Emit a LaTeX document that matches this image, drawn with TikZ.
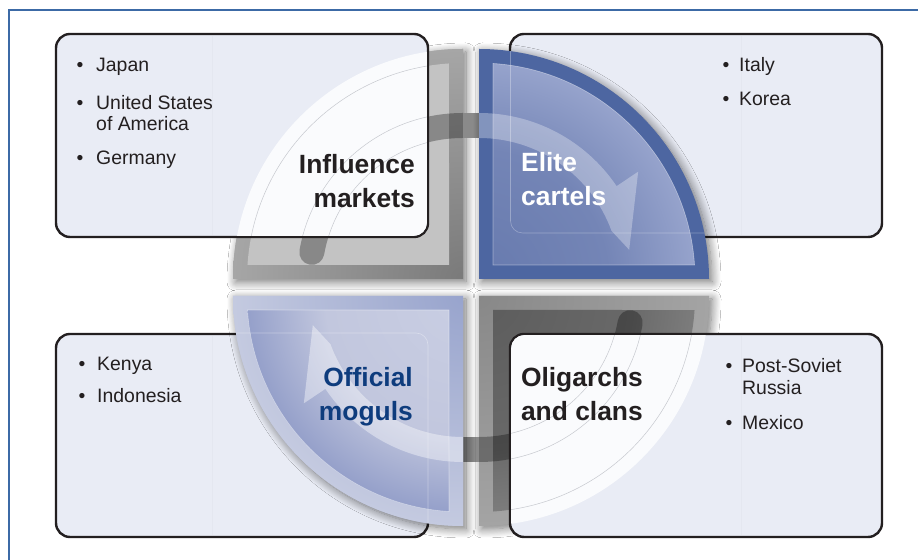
\documentclass[tikz,border=0pt]{standalone}
\usepackage{fontspec}
\setmainfont{Liberation Sans}
\usetikzlibrary{shadows.blur}
\definecolor{framec}{HTML}{3C6AA6}
\definecolor{boxfill}{HTML}{E9ECF5}
\definecolor{boxline}{HTML}{231F20}
\definecolor{boxseam}{HTML}{E4E7F0}
\definecolor{hilite}{HTML}{FAFBFD}
\definecolor{thinl}{HTML}{C6C8CE}
\definecolor{txt}{HTML}{231F20}
\definecolor{mogul}{HTML}{0E3C7D}
\definecolor{tlo1}{HTML}{7A7A7A}
\definecolor{tlo2}{HTML}{A6A6A6}
\definecolor{tlin}{HTML}{C3C3C3}
\definecolor{bro1}{HTML}{888888}
\definecolor{bro2}{HTML}{A4A4A4}
\definecolor{bri1}{HTML}{5C5C5C}
\definecolor{bri2}{HTML}{686868}
\definecolor{bri3}{HTML}{7C7C7C}
\definecolor{tro}{HTML}{4D66A1}
\definecolor{tri1}{HTML}{677AAE}
\definecolor{tri2}{HTML}{7485B6}
\definecolor{tri3}{HTML}{96A3CC}
\definecolor{blo1}{HTML}{98A4CD}
\definecolor{blo2}{HTML}{C4CAE0}
\definecolor{bli1}{HTML}{C9CEE3}
\definecolor{bli2}{HTML}{C2C7DE}
\definecolor{bli3}{HTML}{95A0CA}
\definecolor{gapband}{HTML}{8A8A8A}
\pgfdeclareradialshading{tlout}{\pgfpoint{0bp}{0bp}}{color(0bp)=(tlo1); color(25bp)=(tlo2); color(50bp)=(tlo2)}
\pgfdeclareradialshading{brout}{\pgfpoint{0bp}{0bp}}{color(0bp)=(bro1); color(25bp)=(bro2); color(50bp)=(bro2)}
\pgfdeclareradialshading{brin}{\pgfpoint{0bp}{0bp}}{color(0bp)=(bri1); color(16bp)=(bri2); color(23.5bp)=(bri3); color(50bp)=(bri3)}
\pgfdeclareradialshading{trin}{\pgfpoint{0bp}{0bp}}{color(0bp)=(tri1); color(14bp)=(tri2); color(23.5bp)=(tri3); color(50bp)=(tri3)}
\pgfdeclareradialshading{blout}{\pgfpoint{0bp}{0bp}}{color(0bp)=(blo1); color(25bp)=(blo2); color(50bp)=(blo2)}
\pgfdeclareradialshading{blin}{\pgfpoint{0bp}{0bp}}{color(0bp)=(bli1); color(15bp)=(bli2); color(23.5bp)=(bli3); color(50bp)=(bli3)}
\tikzset{
  qshadow/.style={blur shadow={shadow xshift=3bp, shadow yshift=-3bp, shadow blur radius=9bp, shadow opacity=55, shadow blur steps=12}},
  textbox/.style={draw=boxline, line width=2.4bp, fill=boxfill, rounded corners=14bp, minimum width=372bp, minimum height=203bp, inner sep=0pt},
  thinline/.style={draw=thinl, line width=.5bp},
  glint/.style={draw=white, draw opacity=.4, line width=.6bp},
  item/.style={anchor=base west, inner sep=0pt, text=txt, font=\fontsize{19.5}{22}\selectfont},
  bul/.style={anchor=base, inner sep=0pt, text=txt, font=\fontsize{19.5}{22}\selectfont},
  lab/.style={inner sep=0pt, font=\fontsize{26.5}{32}\selectfont\bfseries},
  seam/.style={draw=boxseam, line width=.5bp}
}
\begin{document}
\begin{tikzpicture}[x=1bp,y=1bp]
\useasboundingbox (0,0) rectangle (918,560);
\fill[white] (0,0) rectangle (918,560);
\draw[framec, line width=1.6bp] (9,0) -- (9,550) -- (918,550);

% ---------- TL quadrant (Influence markets)
\begin{scope}[shift={(463,281)}]
  \path[qshadow, fill=tlo2] (0,0) -- (90:230) arc[start angle=90,end angle=180,radius=230] -- cycle;
  \begin{scope}
    \clip (0,0) -- (90:230) arc[start angle=90,end angle=180,radius=230] -- cycle;
    \shade[shading=tlout] (0,0) circle[radius=230];
  \end{scope}
  \fill[tlin] (-14,14) -- (176.28:216) arc[start angle=176.28,end angle=93.72,radius=216] -- cycle;
  \fill[black, fill opacity=.3] (90:141) arc[start angle=90,end angle=170,radius=141] arc[start angle=350,end angle=170,radius=12.5] arc[start angle=170,end angle=90,radius=166] -- cycle;
  \fill[gapband] (0,141) rectangle (16,166);
\end{scope}

% ---------- BR quadrant (Oligarchs and clans)
\begin{scope}[shift={(479,264)}]
  \path[qshadow, fill=bro2] (0,0) -- (270:230) arc[start angle=270,end angle=360,radius=230] -- cycle;
  \begin{scope}
    \clip (0,0) -- (270:230) arc[start angle=270,end angle=360,radius=230] -- cycle;
    \shade[shading=brout] (0,0) circle[radius=230];
  \end{scope}
  \begin{scope}
    \clip (14,-14) -- (273.72:216) arc[start angle=273.72,end angle=356.28,radius=216] -- cycle;
    \shade[shading=brin] (0,0) circle[radius=230];
  \end{scope}
  \fill[black, fill opacity=.3] (270:141) arc[start angle=270,end angle=350,radius=141] arc[start angle=170,end angle=-10,radius=12.5] arc[start angle=350,end angle=270,radius=166] -- cycle;
  \fill[gapband] (-16,-141) rectangle (0,-166);
\end{scope}

% ---------- TL box with highlight over the quadrant
\node[textbox] (tlbox) at (242,424.5) {};
\begin{scope}
  \clip[rounded corners=12.8bp] (57.2,324.2) rectangle (426.8,524.8);
  \begin{scope}[shift={(463,281)}]
    \fill[hilite] (0,0) -- (90:230) arc[start angle=90,end angle=180,radius=230] -- cycle;
    \path[thinline] (-14,14) -- (176.28:216) arc[start angle=176.28,end angle=93.72,radius=216] -- cycle;
    \path[thinline] (90:141) arc[start angle=90,end angle=170,radius=141] arc[start angle=350,end angle=170,radius=12.5] arc[start angle=170,end angle=90,radius=166] -- cycle;
  \end{scope}
\end{scope}
\path[seam] (212,325) -- (212,524);

% ---------- BR box with highlight over the quadrant
\node[textbox] (brbox) at (696,124.5) {};
\begin{scope}
  \clip[rounded corners=12.8bp] (511.2,24.2) rectangle (880.8,224.8);
  \begin{scope}[shift={(479,264)}]
    \fill[hilite] (0,0) -- (270:230) arc[start angle=270,end angle=360,radius=230] -- cycle;
    \path[thinline] (14,-14) -- (273.72:216) arc[start angle=273.72,end angle=356.28,radius=216] -- cycle;
    \path[thinline] (270:141) arc[start angle=270,end angle=350,radius=141] arc[start angle=170,end angle=-10,radius=12.5] arc[start angle=350,end angle=270,radius=166] -- cycle;
  \end{scope}
\end{scope}
\path[seam] (741,25) -- (741,224);

% ---------- TR and BL boxes (under their quadrants)
\node[textbox] (trbox) at (696,424.5) {};
\path[seam] (741,325) -- (741,524);
\node[textbox] (blbox) at (242,124.5) {};
\path[seam] (212,25) -- (212,224);

% ---------- TR quadrant (Elite cartels)
\begin{scope}[shift={(479,281)}]
  \path[qshadow, fill=tro] (0,0) -- (0:230) arc[start angle=0,end angle=90,radius=230] -- cycle;
  \begin{scope}
    \clip (14,14) -- (3.72:216) arc[start angle=3.72,end angle=86.28,radius=216] -- cycle;
    \shade[shading=trin] (0,0) circle[radius=230];
  \end{scope}
  \path[glint] (14,14) -- (3.72:216) arc[start angle=3.72,end angle=86.28,radius=216] -- cycle;
  \fill[white, fill opacity=.3] (90:166) arc[start angle=90,end angle=34,radius=166] -- (34:192) -- (11:153) -- (20:141) arc[start angle=20,end angle=90,radius=141] -- cycle;
  \begin{scope}
    \clip (0,0) -- (0:230) arc[start angle=0,end angle=90,radius=230] -- cycle;
    \draw[white, draw opacity=.3, line width=.6bp, rounded corners=12bp] (31.5,46) rectangle (402,246);
  \end{scope}
\end{scope}

% ---------- BL quadrant (Official moguls)
\begin{scope}[shift={(463,264)}]
  \path[qshadow, fill=blo2] (0,0) -- (180:230) arc[start angle=180,end angle=270,radius=230] -- cycle;
  \begin{scope}
    \clip (0,0) -- (180:230) arc[start angle=180,end angle=270,radius=230] -- cycle;
    \shade[shading=blout] (0,0) circle[radius=230];
  \end{scope}
  \begin{scope}
    \clip (-14,-14) -- (183.72:216) arc[start angle=183.72,end angle=266.28,radius=216] -- cycle;
    \shade[shading=blin] (0,0) circle[radius=230];
  \end{scope}
  \path[glint] (-14,-14) -- (183.72:216) arc[start angle=183.72,end angle=266.28,radius=216] -- cycle;
  \fill[white, fill opacity=.4] (270:166) arc[start angle=270,end angle=214,radius=166] -- (214:192) -- (191:153) -- (200:141) arc[start angle=200,end angle=270,radius=141] -- cycle;
  \begin{scope}
    \clip (0,0) -- (180:230) arc[start angle=180,end angle=270,radius=230] -- cycle;
    \draw[white, draw opacity=.35, line width=.6bp, rounded corners=12bp] (-410,-244) rectangle (-35,-37);
  \end{scope}
\end{scope}

% ---------- texts
\node[bul] (tlb1) at (80,488) {\textbullet};
\node[item] (tlt1) at (96,488) {Japan};
\node[bul] (tlb2) at (80,450) {\textbullet};
\node[item] (tlt2) at (96,450) {United States};
\node[item] (tlt3) at (96,429) {of America};
\node[bul] (tlb3) at (80,395) {\textbullet};
\node[item] (tlt4) at (96,395) {Germany};

\node[bul] (trb1) at (726,488) {\textbullet};
\node[item] (trt1) at (739,488) {Italy};
\node[bul] (trb2) at (726,454) {\textbullet};
\node[item] (trt2) at (739,454) {Korea};

\node[bul] (blb1) at (82,189) {\textbullet};
\node[item] (blt1) at (97,189) {Kenya};
\node[bul] (blb2) at (82,157) {\textbullet};
\node[item] (blt2) at (97,157) {Indonesia};

\node[bul] (brb1) at (729,187) {\textbullet};
\node[item] (brt1) at (742,187) {Post-Soviet};
\node[item] (brt2) at (742,165) {Russia};
\node[bul] (brb2) at (729,130) {\textbullet};
\node[item] (brt3) at (742,130) {Mexico};

\node[lab, anchor=base east, text=txt] (inf1) at (415,386) {Influence};
\node[lab, anchor=base east, text=txt] (inf2) at (415,352) {markets};
\node[lab, anchor=base west, text=white] (eli1) at (521,388) {Elite};
\node[lab, anchor=base west, text=white] (eli2) at (521,354) {cartels};
\node[lab, anchor=base east, text=mogul] (off1) at (413,173) {Official};
\node[lab, anchor=base east, text=mogul] (off2) at (413,139) {moguls};
\node[lab, anchor=base east, text=txt] (oli1) at (643,173) {Oligarchs};
\node[lab, anchor=base east, text=txt] (oli2) at (643,139) {and clans};
\end{tikzpicture}
\end{document}
